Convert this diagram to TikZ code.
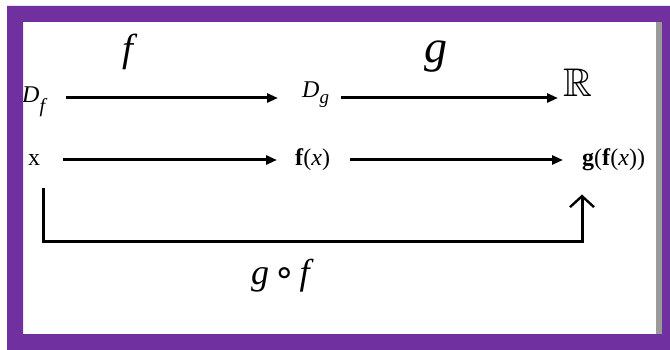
\documentclass[tikz,border=0pt]{standalone}
\usepackage{fontspec}
\usepackage{amssymb}
\setmainfont{Liberation Serif}
\newfontfamily\symfont{DejaVu Sans}
\usetikzlibrary{arrows.meta}
\definecolor{framepurple}{HTML}{7030A0}
\definecolor{edgegray}{HTML}{9A9A9A}
\begin{document}
\begin{tikzpicture}[x=1pt,y=-1pt,
  lbl/.style={inner sep=0pt, anchor=base west},
  lblc/.style={inner sep=0pt, anchor=base},
  arr/.style={line width=3pt, -{Triangle[length=11pt,width=9pt]}},
  comp/.style={line width=3pt, -{Straight Barb[length=11pt,width=24pt,line width=2.4pt]}}]
\useasboundingbox (0,0) rectangle (670,350);
\fill[white] (0,0) rectangle (670,350);
% labels / nodes
\node[lbl] (Df) at (22,103) {\fontsize{24}{24}\selectfont\textit{D}\raisebox{-10pt}{\fontsize{20}{20}\selectfont\textit{f}}};
\node[lbl] (Dg) at (302,98) {\fontsize{24}{24}\selectfont\textit{D}\raisebox{-6pt}{\fontsize{19}{19}\selectfont\textit{g}}};
\node[lbl] (R) at (563,97) {\fontsize{40}{40}\selectfont$\mathbb{R}$};
\node[lbl] (xn) at (28,166) {\fontsize{24}{24}\selectfont x};
\node[lbl] (fx) at (295,166) {\fontsize{24}{24}\selectfont\textbf{f}(\textit{x})};
\node[lbl] (gfx) at (582,166) {\fontsize{24}{24}\selectfont\textbf{g}(\textbf{f}(\textit{x}))};
\node[lblc] (lf) at (130,62) {\fontsize{39}{39}\selectfont\textit{f}};
\node[lblc] (lg) at (436,63) {\fontsize{46}{46}\selectfont\textit{g}};
\node[lbl] (lgf) at (251,284) {\fontsize{36}{36}\selectfont\textit{g}\hspace{4pt}{\symfont ∘}\hspace{4pt}\textit{f}};
% rows
\coordinate (r1) at (0,98);
\coordinate (r2) at (0,160);
\draw[arr, shorten <=18pt, shorten >=24pt] (Df.east |- r1) -- (Dg.west |- r1);
\draw[arr, shorten <=12pt, shorten >=5pt] (Dg.east |- r1) -- (R.west |- r1);
\draw[arr, shorten <=23pt, shorten >=18pt] (xn.east |- r2) -- (fx.west |- r2);
\draw[arr, shorten <=20pt, shorten >=19pt] (fx.east |- r2) -- (gfx.west |- r2);
% composite
\draw[comp] ([xshift=9pt,yshift=-22pt]xn.south) -- ++(0,53) -| ([yshift=-23pt]gfx.south west);
% frame
\fill[framepurple, even odd rule] (7,6) rectangle (670,350) (23,22) rectangle (662,334);
\fill[edgegray] (656,22) rectangle (662,334);
\end{tikzpicture}
\end{document}
